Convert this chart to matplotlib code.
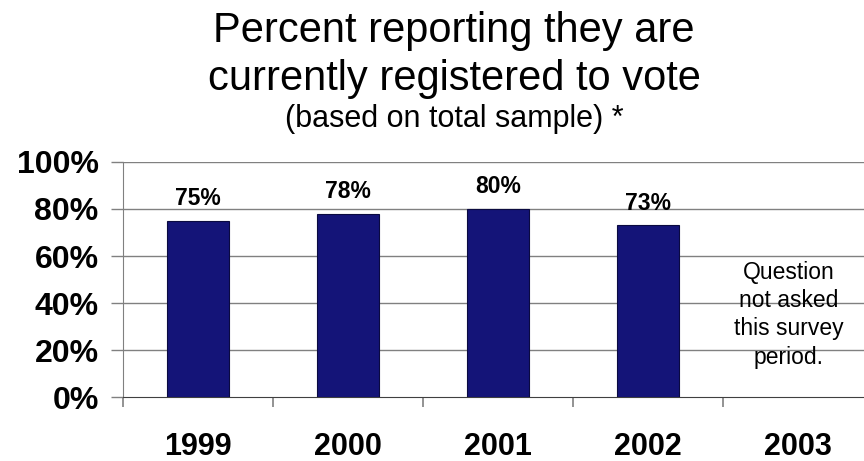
import matplotlib
matplotlib.use("Agg")
import matplotlib.pyplot as plt

years = ["1999", "2000", "2001", "2002", "2003"]
values = [75, 78, 80, 73]          # 2003 not asked
value_labels = ["75%", "78%", "80%", "73%"]
yticks = [0, 20, 40, 60, 80, 100]
ytick_labels = ["0%", "20%", "40%", "60%", "80%", "100%"]
note = "Question\nnot asked\nthis survey\nperiod."

plt.rcParams['font.family'] = ['Liberation Sans', 'DejaVu Sans']

fig = plt.figure(figsize=(8.64, 4.61), dpi=100)
ax = fig.add_axes([0.1424, 0.1388, 0.868, 0.5098])

x = list(range(len(values)))
ax.bar(x, values, width=0.41, color="#141478", edgecolor="#0a0a40", linewidth=0.8, zorder=3)

for i, v in enumerate(values):
    ax.text(i, v + 9.5, value_labels[i], ha="center", va="center",
            fontsize=16.5, fontweight="bold", zorder=4)

ax.text(4 - 0.06, 35, note, ha="center", va="center", fontsize=16.5,
        linespacing=1.3, zorder=4)

ax.set_xlim(-0.5, 4.5)
ax.set_ylim(0, 100)

ax.set_yticks(yticks)
ax.set_yticklabels(ytick_labels, fontsize=23, fontweight="bold")
ax.tick_params(axis="y", direction="out", length=8.5, width=1, color="#808080", pad=9)

# category boundaries as major ticks, labels at centres via minor ticks
ax.set_xticks([i + 0.5 for i in range(-1, 5)])
ax.set_xticklabels([])
ax.set_xticks(range(len(years)), minor=True)
ax.set_xticklabels(years, minor=True, fontsize=22, fontweight="bold")
ax.tick_params(axis="x", which="major", direction="out", length=7, width=1.2, color="#808080")
ax.tick_params(axis="x", which="minor", length=0, pad=25)

for y in yticks[1:]:
    ax.axhline(y, color="#808080", linewidth=1, zorder=1)

for s in ["top", "right"]:
    ax.spines[s].set_visible(False)
ax.spines["left"].set_color("#808080")
ax.spines["bottom"].set_color("#404040")

tx = 454 / 864
fig.text(tx, 1 - 42 / 461, "Percent reporting they are", ha="center", va="baseline", fontsize=30)
fig.text(tx, 1 - 90 / 461, "currently registered to vote", ha="center", va="baseline", fontsize=30)
fig.text(tx, 1 - 126.5 / 461, "(based on total sample) *", ha="center", va="baseline", fontsize=22)

fig.savefig("out.png", dpi=100)
